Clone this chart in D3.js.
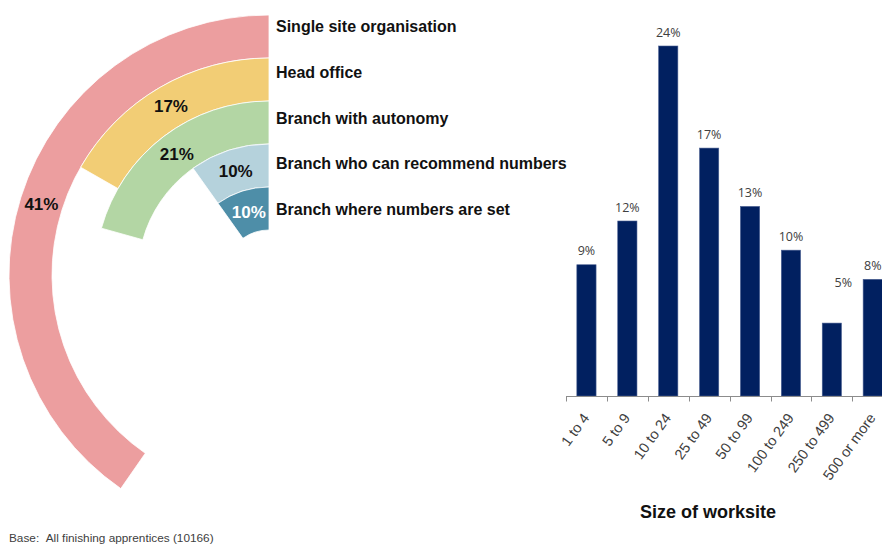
<!DOCTYPE html>
<html>
<head>
<meta charset="utf-8">
<script src="https://cdn.jsdelivr.net/npm/d3@7"></script>
<style>
  html, body { margin: 0; padding: 0; background: #fff; }
  svg { display: block; }
</style>
</head>
<body>
<svg id="chart" width="882" height="547"></svg>
<script>
// ---------- data ----------
const ringCategories = [
  "Single site organisation",
  "Head office",
  "Branch with autonomy",
  "Branch who can recommend numbers",
  "Branch where numbers are set"
];
const ringValues = [41, 17, 21, 10, 10];
const ringColors = ["#EC9E9F", "#F2CD75", "#B3D6A4", "#B5D2DC", "#4E8EA8"];
const ringLabelColors = ["#111", "#111", "#111", "#111", "#fff"];

const sizeCategories = ["1 to 4", "5 to 9", "10 to 24", "25 to 49", "50 to 99", "100 to 249", "250 to 499", "500 or more"];
const sizeValues = [9, 12, 24, 17, 13, 10, 5, 8];
const xAxisTitle = "Size of worksite";
const footnote = "Base:\u00a0\u00a0All finishing apprentices (10166)";

// ---------- setup ----------
const svg = d3.select("#chart");
const FONT = "'Liberation Sans', Arial, sans-serif";

// ---------- radial bar chart ----------
const cx = 269, cy = 275;
const rScale = d3.scaleBand().domain(ringCategories).range([260, 45]);
const aScale = d3.scaleLinear().domain([0, 100]).range([0, -2 * Math.PI * 0.984]);
const labelY = d3.scalePoint().domain(ringCategories).range([32.4, 214.8]);
const arc = d3.arc()
  .innerRadius(d => rScale(d.cat))
  .outerRadius(d => rScale(d.cat) + rScale.bandwidth())
  .startAngle(0)
  .endAngle(d => aScale(d.value));

const ringData = ringCategories.map((c, i) => ({cat: c, value: ringValues[i], color: ringColors[i], lc: ringLabelColors[i]}));
const gR = svg.append("g").attr("transform", `translate(${cx},${cy})`);

gR.selectAll("path.ring").data(ringData).join("path")
  .attr("class", "ring")
  .attr("d", arc)
  .attr("fill", d => d.color)
  .attr("stroke", "#fff")
  .attr("stroke-width", 0.8);

gR.selectAll("text.pct").data(ringData).join("text")
  .attr("class", "pct")
  .attr("x", d => arc.centroid(d)[0])
  .attr("y", d => arc.centroid(d)[1])
  .attr("dy", "0.36em")
  .attr("text-anchor", "middle")
  .attr("font-family", FONT)
  .attr("font-weight", "bold")
  .attr("font-size", 17)
  .attr("fill", d => d.lc)
  .text(d => d.value + "%");

svg.selectAll("text.cat").data(ringData).join("text")
  .attr("class", "cat")
  .attr("x", cx + 7)
  .attr("y", d => labelY(d.cat))
  .attr("font-family", FONT)
  .attr("font-weight", "bold")
  .attr("font-size", 16)
  .attr("fill", "#111")
  .text(d => d.cat);

// ---------- column chart ----------
const x = d3.scaleBand().domain(sizeCategories).range([566, 893.2]).paddingInner(0.53).paddingOuter(0.265);
const y = d3.scaleLinear().domain([0, 24]).range([396, 46]);
const barData = sizeCategories.map((c, i) => ({cat: c, value: sizeValues[i]}));
const labelShift = {"250 to 499": [11.5, -27]};

const gB = svg.append("g");
gB.selectAll("rect.bar").data(barData).join("rect")
  .attr("class", "bar")
  .attr("x", d => x(d.cat))
  .attr("y", d => y(d.value))
  .attr("width", x.bandwidth())
  .attr("height", d => y(0) - y(d.value))
  .attr("fill", "#012060")
  .attr("stroke", "#4a5f92")
  .attr("stroke-width", 0.6);

gB.selectAll("text.val").data(barData).join("text")
  .attr("class", "val")
  .attr("x", d => x(d.cat) + x.bandwidth() / 2 + (labelShift[d.cat] ? labelShift[d.cat][0] : 0))
  .attr("y", d => y(d.value) - 9.5 + (labelShift[d.cat] ? labelShift[d.cat][1] : 0))
  .attr("text-anchor", "middle")
  .attr("font-family", "'Open Sans', sans-serif")
  .attr("font-size", 12.5)
  .attr("fill", "#404040")
  .text(d => d.value + "%");

// axis line and ticks at band boundaries
const y0 = y(0) + 0.5;
gB.append("line")
  .attr("x1", x.range()[0]).attr("x2", x.range()[1])
  .attr("y1", y0).attr("y2", y0)
  .attr("stroke", "#8c8c8c").attr("stroke-width", 1);
const boundaries = sizeCategories.map(c => x(c) - x.step() * x.paddingInner() / 2);
gB.selectAll("line.tick").data(boundaries).join("line")
  .attr("class", "tick")
  .attr("x1", d => Math.round(d) + 0.5).attr("x2", d => Math.round(d) + 0.5)
  .attr("y1", y0).attr("y2", y0 + 5)
  .attr("stroke", "#8c8c8c").attr("stroke-width", 1);

gB.selectAll("text.tl").data(sizeCategories).join("text")
  .attr("class", "tl")
  .attr("transform", d => `translate(${x(d) + x.bandwidth() / 2 + 3.5},${418}) rotate(-54)`)
  .attr("text-anchor", "end")
  .attr("font-family", FONT)
  .attr("font-size", 14.5)
  .attr("fill", "#404040")
  .text(d => d);

svg.append("text")
  .attr("x", 708).attr("y", 518)
  .attr("text-anchor", "middle")
  .attr("font-family", FONT)
  .attr("font-weight", "bold")
  .attr("font-size", 18)
  .attr("fill", "#111")
  .text(xAxisTitle);

svg.append("text")
  .attr("x", 9).attr("y", 541.5)
  .attr("font-family", FONT)
  .attr("font-size", 11.8)
  .attr("fill", "#404040")
  .text(footnote);
</script>
</body>
</html>
